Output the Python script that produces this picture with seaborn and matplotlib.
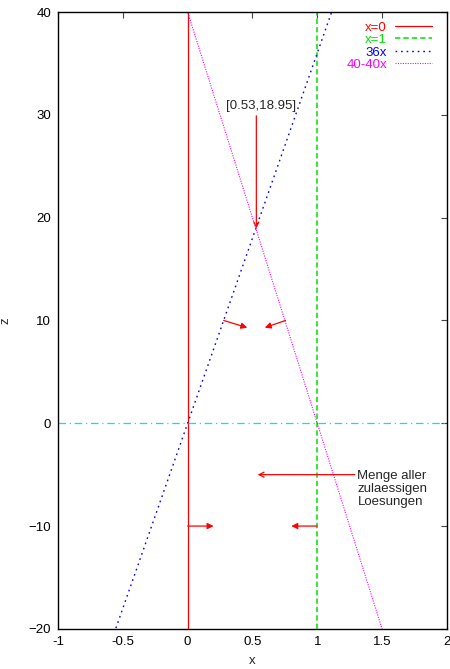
import matplotlib
matplotlib.use("Agg")
import seaborn as sns
from matplotlib import pyplot as plt

# line endpoints (x, z)
x0_x = [0, 0]
x0_z = [-20, 40]
x1_x = [1, 1]
x1_z = [-20, 40]
rise_x = [-1, 2]
rise_z = [-36, 72]
fall_x = [-1, 2]
fall_z = [80, -40]
zero_x = [-1, 2]
zero_z = [0, 0]

series_labels = ["x=0", "x=1", "36x", "40-40x"]
series_colors = ["#ff0000", "#00e000", "#0000ff", "#ff00ff"]

x_ticks = [-1, -0.5, 0, 0.5, 1, 1.5, 2]
x_tick_labels = ["-1", "-0.5", "0", "0.5", "1", "1.5", "2"]
z_ticks = [-20, -10, 0, 10, 20, 30, 40]

# arrows: (from, to)
small_arrows = [
    ((0.278, 10), (0.46, 9.3)),
    ((0.755, 10), (0.595, 9.3)),
    ((0, -10), (0.2, -10)),
    ((1, -10), (0.8, -10)),
]
peak_label = "[0.53,18.95]"
peak_point = (0.53, 18.95)
set_label = "Menge aller\nzulaessigen\nLoesungen"
set_point = (0.54, -5)

FS = 9.5


def main():
    sns.set_style("white")
    plt.rcParams["font.family"] = ["Liberation Sans", "DejaVu Sans"]
    plt.rcParams["font.size"] = FS

    fig = plt.figure(figsize=(4.5, 6.69), dpi=100)
    ax = fig.add_axes([0.129, 0.06, 0.864, 0.922])

    styles = [
        dict(linestyle="-", linewidth=0.9),
        dict(linestyle=(0, (3.5, 2)), linewidth=1.1),
        dict(linestyle=(0, (1.2, 2.8)), linewidth=1.0),
        dict(linestyle=(0, (1, 1.2)), linewidth=0.8),
    ]
    data = [(x0_x, x0_z), (x1_x, x1_z), (rise_x, rise_z), (fall_x, fall_z)]
    for (xs, zs), lab, col, st in zip(data, series_labels, series_colors, styles):
        sns.lineplot(x=xs, y=zs, ax=ax, color=col, label=lab,
                     estimator=None, sort=False, **st)

    sns.lineplot(x=zero_x, y=zero_z, ax=ax, color="#00e5e5", estimator=None,
                 sort=False, linestyle=(0, (6, 3, 1, 3)), linewidth=0.9,
                 legend=False)

    # arrows
    arrow_kw = dict(arrowstyle="-|>", color="red", lw=0.9,
                    shrinkA=0, shrinkB=0, mutation_scale=9)
    for start, end in small_arrows:
        ax.annotate("", xy=end, xytext=start, arrowprops=arrow_kw)

    ax.annotate("", xy=peak_point, xytext=(0.53, 29.9),
                arrowprops=dict(arrowstyle="->", color="red", lw=0.9,
                                shrinkA=0, shrinkB=0, mutation_scale=9))
    ax.text(0.567, 30.9, peak_label, ha="center", va="center", fontsize=FS)

    ax.annotate("", xy=set_point, xytext=(1.29, -5),
                arrowprops=dict(arrowstyle="->", color="red", lw=0.9,
                                shrinkA=0, shrinkB=0, mutation_scale=9))
    ax.text(1.31, -6.4, set_label, ha="left", va="center", fontsize=FS,
            linespacing=1.12)

    ax.set_xlim(-1, 2)
    ax.set_ylim(-20, 40)
    ax.set_xticks(x_ticks)
    ax.set_xticklabels(x_tick_labels)
    ax.set_yticks(z_ticks)
    ax.set_xlabel("x", labelpad=5)
    ax.set_ylabel("z", labelpad=12)

    for s in ax.spines.values():
        s.set_color("black")
        s.set_linewidth(1.0)
        s.set_visible(True)
    ax.tick_params(direction="in", length=4, width=0.8, color="#444444",
                   top=True, right=True, labelsize=FS, pad=5,
                   labelcolor="black")

    leg = ax.legend(loc="upper right", bbox_to_anchor=(0.961, 0.985),
                    frameon=False, markerfirst=False, borderpad=0,
                    borderaxespad=0, handlelength=2.8, handletextpad=0.6,
                    labelspacing=0.02, fontsize=FS)
    for text, col in zip(leg.get_texts(), series_colors):
        text.set_color(col)

    fig.savefig("out.png", dpi=100)


if __name__ == "__main__":
    main()
